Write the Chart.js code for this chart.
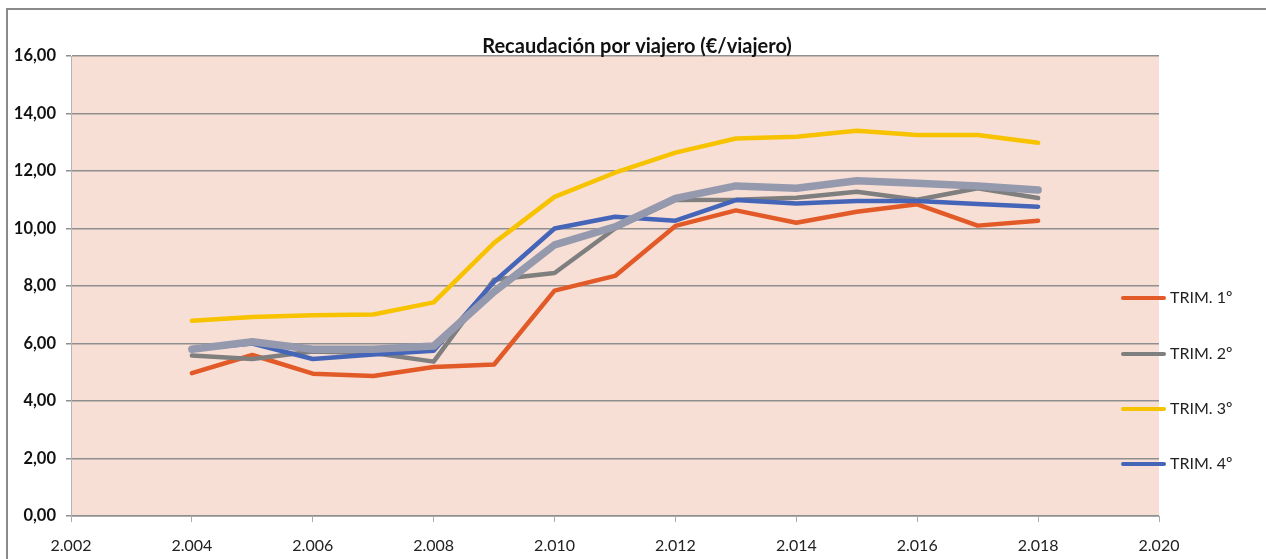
<!DOCTYPE html>
<html>
<head>
<meta charset="utf-8">
<script src="https://cdn.jsdelivr.net/npm/chart.js@4/dist/chart.umd.min.js"></script>
<style>
  html, body { margin: 0; padding: 0; background: #fff; }
  #wrap { width: 1266px; height: 559px; position: relative; }
</style>
</head>
<body>
<div id="wrap"><canvas id="chart" width="1266" height="559"></canvas></div>
<script>
// data
const years = [2004, 2005, 2006, 2007, 2008, 2009, 2010, 2011, 2012, 2013, 2014, 2015, 2016, 2017, 2018];
const trim1 = [4.97, 5.60, 4.95, 4.87, 5.18, 5.27, 7.84, 8.35, 10.09, 10.63, 10.20, 10.58, 10.84, 10.10, 10.27];
const trim2 = [5.58, 5.46, 5.72, 5.67, 5.37, 8.22, 8.45, 10.00, 10.99, 11.00, 11.07, 11.28, 11.00, 11.40, 11.06];
const trim3 = [6.79, 6.92, 6.98, 7.01, 7.43, 9.50, 11.10, 11.94, 12.64, 13.13, 13.19, 13.40, 13.25, 13.25, 12.98];
const trim4 = [5.80, 6.00, 5.46, 5.62, 5.75, 8.15, 10.00, 10.41, 10.27, 10.99, 10.87, 10.96, 10.96, 10.85, 10.76];
const anual = [5.80, 6.06, 5.80, 5.80, 5.91, 7.80, 9.43, 10.06, 11.05, 11.48, 11.40, 11.66, 11.57, 11.48, 11.34];

const legendLabels = ["TRIM. 1º", "TRIM. 2º", "TRIM. 3º", "TRIM. 4º"];
const titleText = "Recaudación por viajero (€/viajero)";
const xMin = 2002, xMax = 2020, yMin = 0, yMax = 16;

const FONT = "Lato, 'Open Sans', sans-serif";

const toPoints = (vals) => vals.map((v, i) => ({ x: years[i], y: v }));

const mkLine = (label, vals, color, width, order) => ({
  label: label,
  data: toPoints(vals),
  borderColor: color,
  backgroundColor: color,
  borderWidth: width,
  pointRadius: 0,
  tension: 0,
  borderCapStyle: "round",
  borderJoinStyle: "round",
  order: order,
});

// background, frame, title and the side legend
const decor = {
  id: "decor",
  beforeDraw(chart) {
    const { ctx, chartArea: a } = chart;
    ctx.save();
    ctx.fillStyle = "#F8DFD5";
    ctx.fillRect(a.left, a.top, a.right - a.left, a.bottom - a.top);
    // outer frame (cropped, only left and top visible)
    ctx.strokeStyle = "#8a8a8a";
    ctx.lineWidth = 2;
    ctx.beginPath();
    ctx.moveTo(7, 559);
    ctx.lineTo(7, 9);
    ctx.lineTo(1266, 9);
    ctx.stroke();
    ctx.restore();
  },
  afterDraw(chart) {
    const { ctx } = chart;
    ctx.save();
    ctx.fillStyle = "#111";
    ctx.font = "bold 20px " + FONT;
    ctx.textAlign = "center";
    ctx.textBaseline = "alphabetic";
    ctx.fillText(titleText, 637, 53);

    const ys = [298, 354, 409, 464];
    ctx.font = "16px " + FONT;
    ctx.textAlign = "left";
    ctx.textBaseline = "middle";
    legendLabels.forEach((lab, i) => {
      const ds = chart.data.datasets[i];
      ctx.strokeStyle = ds.borderColor;
      ctx.lineWidth = 4;
      ctx.lineCap = "round";
      ctx.beginPath();
      ctx.moveTo(1123, ys[i]);
      ctx.lineTo(1164, ys[i]);
      ctx.stroke();
      ctx.fillStyle = "#222";
      ctx.fillText(lab, 1170, ys[i]);
    });
    ctx.restore();
  },
};

new Chart(document.getElementById("chart"), {
  type: "line",
  data: {
    datasets: [
      mkLine(legendLabels[0], trim1, "#E25A27", 4.5, 4),
      mkLine(legendLabels[1], trim2, "#7F7F7F", 4.5, 3),
      mkLine(legendLabels[2], trim3, "#F7C200", 4.5, 2),
      mkLine(legendLabels[3], trim4, "#4565B8", 4.5, 1),
      mkLine("Anual", anual, "#9599AE", 7.5, 0),
    ],
  },
  options: {
    responsive: false,
    animation: false,
    layout: { padding: { top: 56, right: 107, left: 8, bottom: 0 } },
    plugins: {
      legend: { display: false },
      title: { display: false },
      tooltip: { enabled: false },
    },
    scales: {
      x: {
        type: "linear",
        min: xMin,
        max: xMax,
        ticks: {
          stepSize: 2,
          color: "#222",
          font: { family: FONT, size: 16 },
          padding: 14,
          callback: (v) => Math.floor(v / 1000) + "." + String(v % 1000).padStart(3, "0"),
        },
        grid: { drawOnChartArea: false, drawTicks: true, tickLength: 6, color: "#aaa" },
        border: { color: "#aaa", width: 1 },
        afterFit: (s) => { s.height = 43; },
      },
      y: {
        min: yMin,
        max: yMax,
        ticks: {
          stepSize: 2,
          color: "#111",
          font: { family: FONT, size: 16.5, weight: "bold" },
          padding: 10,
          callback: (v) => v.toFixed(2).replace(".", ","),
        },
        grid: { color: "#8f8f8f", lineWidth: 1.5, tickLength: 5 },
        border: { color: "#b5b5b5", width: 1 },
        afterFit: (s) => { s.width = 63; },
      },
    },
  },
  plugins: [decor],
});
</script>
</body>
</html>
